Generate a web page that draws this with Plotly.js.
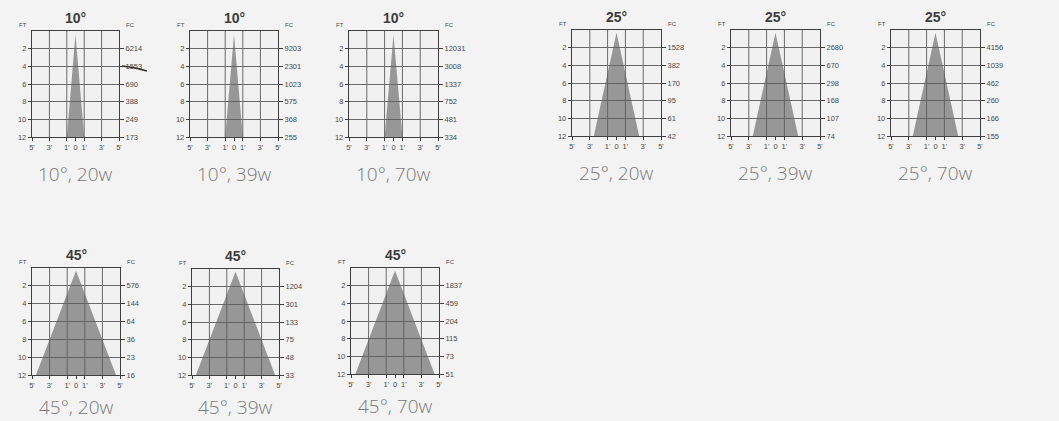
<!DOCTYPE html>
<html>
<head>
<meta charset="utf-8">
<script src="https://cdn.plot.ly/plotly-3.0.1.min.js"></script>
<style>
html,body{margin:0;padding:0;background:#f3f3f3;}
#chart{width:1059px;height:421px;}
</style>
</head>
<body>
<div id="chart"></div>
<script>
// ---- data ----
const captions = ['10°, 20w','10°, 39w','10°, 70w','25°, 20w','25°, 39w','25°, 70w','45°, 20w','45°, 39w','45°, 70w'];
const beamTitles = ['10°','10°','10°','25°','25°','25°','45°','45°','45°'];
const halfWidthAt12ft = [1.0, 1.0, 1.0, 2.55, 2.55, 2.55, 4.55, 4.55, 4.5];
const apexDepth = [0.4, 0.4, 0.4, 0.3, 0.3, 0.3, 0.3, 0.3, 0.3];
const baseDepth = 12;
const ftTicks = [2, 4, 6, 8, 10, 12];
const fc1 = [6214, 1553, 690, 388, 249, 173];
const fc2 = [9203, 2301, 1023, 575, 368, 255];
const fc3 = [12031, 3008, 1337, 752, 481, 334];
const fc4 = [1528, 382, 170, 95, 61, 42];
const fc5 = [2680, 670, 298, 168, 107, 74];
const fc6 = [4156, 1039, 462, 260, 166, 155];
const fc7 = [576, 144, 64, 36, 23, 16];
const fc8 = [1204, 301, 133, 75, 48, 33];
const fc9 = [1837, 459, 204, 115, 73, 51];
const fcValues = [fc1, fc2, fc3, fc4, fc5, fc6, fc7, fc8, fc9];
const xTickVals = [-5, -3, -1, 0, 1, 3, 5];
const xTickText = ["5'", "3'", "1'", "0", "1'", "3'", "5'"];
const xGridVals = [-3, -1, 1, 3];

// ---- layout (pixel boxes: left, right, top, bottom) ----
const W = 1059, H = 421;
const boxes = [
  [32,119,31,137],[190,278,31,137],[349,438,31,137],
  [572,661,30,136],[731,820,30,136],[891,980,30,136],
  [32,120,268,375],[192,279,269,375],[351,439,268,374]
];
const gridColor = '#6a6a6a';
const lineColor = '#3f3f3f';
const textColor = '#4a4a4a';
const tickFont = {family:'Liberation Sans, Arial, sans-serif', size:7.5, color:textColor};

const traces = [];
const layout = {
  width: W, height: H,
  margin: {l:0, r:0, t:0, b:0},
  paper_bgcolor: '#f3f3f3',
  plot_bgcolor: '#f1f1f1',
  showlegend: false,
  annotations: [],
  shapes: []
};

for (let i = 0; i < 9; i++) {
  const n = i + 1;
  const xa = 'x' + (n === 1 ? '' : n);
  const ya = 'y' + (n === 1 ? '' : n);
  const ya2n = 9 + n;
  const ya2 = 'y' + ya2n;
  const [l, r, t, b] = boxes[i];
  const hw = halfWidthAt12ft[i];

  traces.push({
    type: 'scatter', mode: 'lines',
    x: [-hw, 0, hw, -hw], y: [baseDepth, apexDepth[i], baseDepth, baseDepth],
    fill: 'toself', fillcolor: 'rgba(95,95,95,0.62)',
    line: {width: 0, color: 'rgba(0,0,0,0)'},
    xaxis: xa, yaxis: ya, hoverinfo: 'skip'
  });
  // invisible trace to activate the FC axis
  traces.push({
    type: 'scatter', mode: 'markers',
    x: [0], y: [6], marker: {opacity: 0, size: 1},
    xaxis: xa, yaxis: ya2, hoverinfo: 'skip'
  });

  layout['xaxis' + (n === 1 ? '' : n)] = {
    domain: [l / W, r / W], anchor: ya,
    range: [-5, 5], fixedrange: true,
    tickmode: 'array', tickvals: xTickVals, ticktext: xTickText,
    ticks: 'outside', ticklen: 3, tickwidth: 1, tickcolor: lineColor,
    tickfont: tickFont,
    showgrid: false, zeroline: false,
    showline: true, mirror: true, linecolor: lineColor, linewidth: 1.2
  };
  layout['yaxis' + (n === 1 ? '' : n)] = {
    domain: [1 - b / H, 1 - t / H], anchor: xa,
    range: [12, 0], fixedrange: true,
    tickmode: 'array', tickvals: ftTicks,
    ticks: 'outside', ticklen: 3, tickwidth: 1, tickcolor: lineColor,
    tickfont: tickFont,
    showgrid: true, gridcolor: gridColor, gridwidth: 1,
    zeroline: false,
    showline: true, mirror: true, linecolor: lineColor, linewidth: 1.2
  };
  layout['yaxis' + ya2n] = {
    overlaying: ya, side: 'right', anchor: xa,
    range: [12, 0], fixedrange: true,
    tickmode: 'array', tickvals: ftTicks, ticktext: fcValues[i].map(String),
    ticks: 'outside', ticklen: 4, tickwidth: 1, tickcolor: lineColor,
    tickfont: tickFont,
    showgrid: false, zeroline: false, showline: false
  };

  // vertical grid lines
  xGridVals.forEach(v => {
    layout.shapes.push({
      type: 'line', layer: 'below', xref: xa, yref: ya + ' domain',
      x0: v, x1: v, y0: 0, y1: 1,
      line: {color: gridColor, width: 1}
    });
  });

  // beam title
  layout.annotations.push({
    text: '<b>' + beamTitles[i] + '</b>', showarrow: false,
    xref: xa + ' domain', yref: ya + ' domain', x: 0.5, y: 1,
    xanchor: 'center', yanchor: 'bottom', yshift: 3,
    font: {family:'Liberation Sans, Arial, sans-serif', size: 14, color: '#3c3c3c'}
  });
  // FT label
  layout.annotations.push({
    text: 'FT', showarrow: false,
    xref: xa + ' domain', yref: ya + ' domain', x: 0, y: 1,
    xanchor: 'right', yanchor: 'bottom', xshift: -3, yshift: 1,
    font: {family:'Liberation Sans, Arial, sans-serif', size: 6, color: textColor}
  });
  // FC label
  layout.annotations.push({
    text: 'FC', showarrow: false,
    xref: xa + ' domain', yref: ya + ' domain', x: 1, y: 1,
    xanchor: 'left', yanchor: 'bottom', xshift: 5, yshift: 1,
    font: {family:'Liberation Sans, Arial, sans-serif', size: 6, color: textColor}
  });
  // caption
  layout.annotations.push({
    text: captions[i], showarrow: false,
    xref: xa + ' domain', yref: ya + ' domain', x: 0.5, y: 0,
    xanchor: 'center', yanchor: 'top', yshift: (i < 6 ? -22 : -17),
    font: {family:'Open Sans, sans-serif', size: 19, color: '#7a7a7a', weight: 300}
  });
}

// hand-drawn strike mark over the second FC value of the first panel
layout.shapes.push({
  type: 'path', xref: 'paper', yref: 'paper', layer: 'above',
  path: 'M ' + (122/W) + ',' + (1-66/H) + ' Q ' + (134/W) + ',' + (1-67/H) + ' ' + (147/W) + ',' + (1-71/H),
  line: {color: '#2e2e2e', width: 1.6}
});

Plotly.newPlot('chart', traces, layout, {staticPlot: true, displayModeBar: false});
</script>
</body>
</html>
